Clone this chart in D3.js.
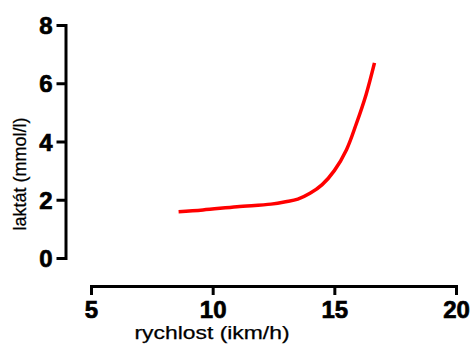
<!DOCTYPE html>
<html>
<head>
<meta charset="utf-8">
<script src="https://cdn.jsdelivr.net/npm/d3@7"></script>
<style>
  body { margin: 0; background: #fff; }
  svg { display: block; }
  .axis path, .axis line { stroke: #000; stroke-width: 3; }
</style>
</head>
<body>
<svg id="chart"></svg>
<script>
// curve
const speed   = [8.6, 9.6, 11.0, 12.4, 13.0, 13.5, 14.0, 14.5, 15.0, 15.5, 15.9, 16.3, 16.65];
const lactate = [1.59, 1.65, 1.76, 1.85, 1.93, 2.02, 2.22, 2.52, 3.0, 3.72, 4.6, 5.6, 6.7];
const xTicks = [5, 10, 15, 20];
const yTicks = [0, 2, 4, 6, 8];

const width = 474, height = 344;
const font = 'Arial, "Liberation Sans", sans-serif';
const svg = d3.select('#chart').attr('width', width).attr('height', height);

const x = d3.scaleLinear().domain([5, 20]).range([91, 456]);
const y = d3.scaleLinear().domain([0, 8]).range([258, 25]);

function styleAxis(g) {
  g.attr('font-family', font).attr('font-size', 24).attr('font-weight', 'bold');
  g.selectAll('path').attr('stroke-linecap', 'square');
  // heavier digits, like the original export
  g.selectAll('.tick text').attr('stroke', '#000').attr('stroke-width', 0.7);
}

// y axis left of the plot, x axis dropped below it (Prism style)
svg.append('g')
  .attr('class', 'axis')
  .attr('transform', 'translate(65.5,0)')
  .call(d3.axisLeft(y).tickValues(yTicks).tickSize(9).tickSizeOuter(0).tickPadding(4))
  .call(styleAxis)
  .call(g => g.selectAll('.tick text').attr('dy', '0.36em'));

svg.append('g')
  .attr('class', 'axis')
  .attr('transform', 'translate(0,286)')
  .call(d3.axisBottom(x).tickValues(xTicks).tickSize(9).tickSizeOuter(0).tickPadding(6))
  .call(styleAxis);

const pts = speed.map((s, i) => [s, lactate[i]]);
const line = d3.line()
  .x(d => x(d[0]))
  .y(d => y(d[1]))
  .curve(d3.curveCatmullRom.alpha(0.5));

svg.append('path')
  .datum(pts)
  .attr('fill', 'none')
  .attr('stroke', '#ff0000')
  .attr('stroke-width', 3.5)
  .attr('d', line);

svg.append('text')
  .attr('transform', 'translate(26,174) rotate(-90)')
  .attr('text-anchor', 'middle')
  .attr('font-family', font)
  .attr('font-size', 18)
  .attr('stroke', '#000')
  .attr('stroke-width', 0.25)
  .text('laktát (mmol/l)');

svg.append('text')
  .attr('x', 212)
  .attr('y', 339)
  .attr('text-anchor', 'middle')
  .attr('font-family', font)
  .attr('font-size', 18)
  .attr('stroke', '#000')
  .attr('stroke-width', 0.25)
  .attr('textLength', 155)
  .attr('lengthAdjust', 'spacingAndGlyphs')
  .text('rychlost (ikm/h)');
</script>
</body>
</html>
